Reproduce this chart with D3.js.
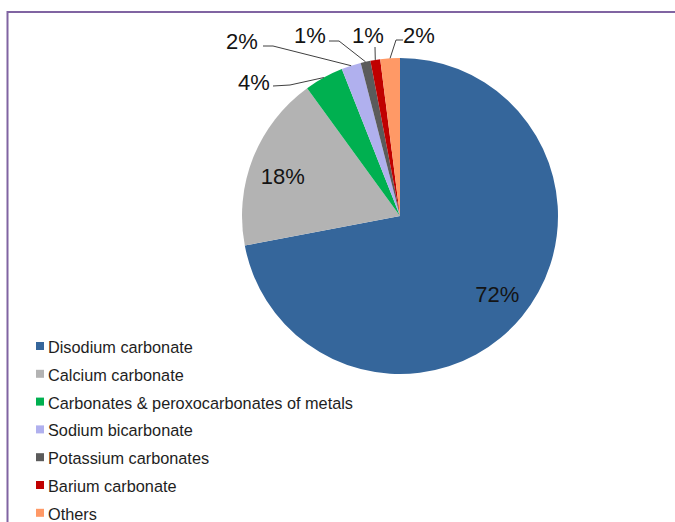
<!DOCTYPE html>
<html>
<head>
<meta charset="utf-8">
<script src="https://cdn.jsdelivr.net/npm/d3@7"></script>
<style>
  html, body { margin: 0; padding: 0; background: #ffffff; }
  svg { display: block; }
  text { font-family: "Liberation Sans", Arial, sans-serif; }
</style>
</head>
<body>
<div id="chart"></div>
<script>
// Category shares (percent)
const categories = [
  "Disodium carbonate",
  "Calcium carbonate",
  "Carbonates & peroxocarbonates of metals",
  "Sodium bicarbonate",
  "Potassium carbonates",
  "Barium carbonate",
  "Others"
];
const shares = [72, 18, 4, 2, 1, 1, 2];
const colors = ["#35669B", "#B3B3B3", "#00B050", "#B0B0EE", "#5B5B5B", "#C00000", "#FF9966"];

// Slices whose labels sit inside the pie, with a small nudge from the centroid
const insideLabels = ["Disodium carbonate", "Calcium carbonate"];
const insideNudge = { "Disodium carbonate": [1, -2], "Calcium carbonate": [-1, 6] };

// Hand-placed callouts for the thin slices: label centre, leader start and elbow
const calloutLayout = {
  "Carbonates & peroxocarbonates of metals": { label: [254, 82], start: [273, 86], elbow: [290, 85] },
  "Sodium bicarbonate":                       { label: [242, 41], start: [263, 46], elbow: [273, 46] },
  "Potassium carbonates":                     { label: [310, 35], start: [329, 41], elbow: [339, 41] },
  "Barium carbonate":                         { label: [368, 35], start: [375, 47], elbow: null },
  "Others":                                   { label: [419, 35], start: [403, 40], elbow: [396, 40] }
};

const W = 675, H = 522;
const cx = 400, cy = 216, R = 158;

const svg = d3.select("#chart").append("svg")
  .attr("width", W).attr("height", H);

svg.append("rect").attr("width", W).attr("height", H).attr("fill", "#ffffff");

// Chart-area frame (runs off the right and bottom edges)
svg.append("rect")
  .attr("x", 7.5).attr("y", 12)
  .attr("width", W + 20).attr("height", H + 20)
  .attr("fill", "none")
  .attr("stroke", "#8064A2")
  .attr("stroke-width", 2);

const data = categories.map((c, i) => ({ name: c, value: shares[i], color: colors[i] }));

const pie = d3.pie().value(d => d.value).sort(null);
const arcs = pie(data);
const arc = d3.arc().innerRadius(0).outerRadius(R);
const labelArc = d3.arc().innerRadius(125).outerRadius(125);

const g = svg.append("g").attr("transform", `translate(${cx},${cy})`);

g.selectAll("path.slice")
  .data(arcs)
  .join("path")
  .attr("class", "slice")
  .attr("d", arc)
  .attr("fill", d => d.data.color);

// Inside labels
g.selectAll("text.inside")
  .data(arcs.filter(d => insideLabels.includes(d.data.name)))
  .join("text")
  .attr("class", "inside")
  .attr("transform", d => {
    const [x, y] = labelArc.centroid(d);
    const [nx, ny] = insideNudge[d.data.name];
    return `translate(${x + nx},${y + ny})`;
  })
  .attr("text-anchor", "middle")
  .attr("dy", "0.36em")
  .attr("font-size", 22)
  .attr("fill", "#141414")
  .text(d => d.value + "%");

// Outside callouts with leader lines
const outside = arcs.filter(d => !insideLabels.includes(d.data.name));
const line = d3.line();

svg.selectAll("path.leader")
  .data(outside)
  .join("path")
  .attr("class", "leader")
  .attr("fill", "none")
  .attr("stroke", "#404040")
  .attr("stroke-width", 1)
  .attr("d", d => {
    const L = calloutLayout[d.data.name];
    const mid = (d.startAngle + d.endAngle) / 2;
    const end = [cx + R * Math.sin(mid), cy - R * Math.cos(mid)];
    const pts = [L.start];
    if (L.elbow) pts.push(L.elbow);
    pts.push(end);
    return line(pts);
  });

svg.selectAll("text.outside")
  .data(outside)
  .join("text")
  .attr("class", "outside")
  .attr("x", d => calloutLayout[d.data.name].label[0])
  .attr("y", d => calloutLayout[d.data.name].label[1])
  .attr("text-anchor", "middle")
  .attr("dy", "0.36em")
  .attr("font-size", 22)
  .attr("fill", "#141414")
  .text(d => d.value + "%");

// Legend
const legend = svg.append("g").attr("transform", "translate(36,353)");
const rowStep = 27.8;
const rows = legend.selectAll("g.row")
  .data(data)
  .join("g")
  .attr("class", "row")
  .attr("transform", (d, i) => `translate(0,${i * rowStep})`);

rows.append("rect")
  .attr("x", 0).attr("y", -11)
  .attr("width", 8).attr("height", 8)
  .attr("fill", d => d.color);

rows.append("text")
  .attr("x", 12).attr("y", 0)
  .attr("font-size", 16.3)
  .attr("fill", "#1e1e1e")
  .text(d => d.name);
</script>
</body>
</html>
